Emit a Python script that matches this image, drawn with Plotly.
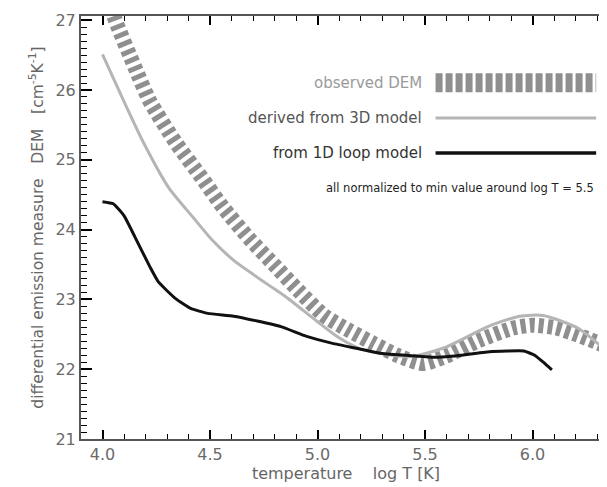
import plotly.graph_objects as go

# ---- data ----
obs_x = [3.98, 4.06, 4.15, 4.22, 4.34, 4.46, 4.56, 4.68, 4.80, 4.92, 5.03, 5.15,
         5.26, 5.37, 5.49, 5.60, 5.75, 5.91, 6.00, 6.11, 6.21, 6.34, 6.40]
obs_y = [27.8, 27.0, 26.33, 25.84, 25.25, 24.75, 24.32, 23.88, 23.49, 23.10, 22.77, 22.55,
         22.37, 22.20, 22.08, 22.19, 22.41, 22.59, 22.63, 22.59, 22.49, 22.33, 22.22]

d3_x = [4.00, 4.09, 4.185, 4.31, 4.42, 4.51, 4.61, 4.70, 4.78, 4.86, 4.93, 5.00, 5.10, 5.20, 5.30, 5.44,
        5.60, 5.80, 5.94, 6.05, 6.21, 6.36]
d3_y = [26.51, 25.90, 25.28, 24.59, 24.18, 23.85, 23.56, 23.36, 23.19, 23.02, 22.85, 22.68, 22.45, 22.29, 22.22, 22.18,
        22.32, 22.62, 22.76, 22.77, 22.59, 22.22]

d1_x = [4.00, 4.05, 4.10, 4.15, 4.22, 4.26, 4.34, 4.41, 4.49, 4.61, 4.72, 4.83, 4.95,
        5.07, 5.18, 5.29, 5.41, 5.54, 5.64, 5.80, 5.96, 6.01, 6.05, 6.09]
d1_y = [24.40, 24.37, 24.20, 23.90, 23.47, 23.25, 23.01, 22.87, 22.80, 22.76, 22.69, 22.61, 22.47,
        22.37, 22.30, 22.23, 22.20, 22.17, 22.19, 22.25, 22.26, 22.20, 22.10, 21.99]

legend_labels = ["observed DEM", "derived from 3D model", "from 1D loop model"]
note_text = "all normalized to min value around log T = 5.5"

FONT = "DejaVu Sans"
OBS_C = "#8f8f8f"
D3_C = "#b5b5b5"
D1_C = "#111111"
AX_C = "#555555"
TICK_C = "black"
X_RANGE = [3.9, 6.365]
Y_RANGE = [21, 27.06]

fig = go.Figure()
fig.add_trace(go.Scatter(x=obs_x, y=obs_y, mode="lines",
                         line=dict(color=OBS_C, width=15, dash="5px,4px", shape="spline", smoothing=0.6), showlegend=False))
fig.add_trace(go.Scatter(x=d3_x, y=d3_y, mode="lines",
                         line=dict(color=D3_C, width=3, shape="spline", smoothing=0.6), showlegend=False))
fig.add_trace(go.Scatter(x=d1_x, y=d1_y, mode="lines",
                         line=dict(color=D1_C, width=3, shape="spline", smoothing=0.4), showlegend=False))

leg_y = [0.842, 0.759, 0.676]
leg_colors = [OBS_C, D3_C, D1_C]
leg_text_colors = ["#9a9a9a", "#555555", "#333333"]
leg_widths = [19, 3, 3.5]
leg_dash = ["7px,3px", "solid", "solid"]
for lab, yy, c, tc, w, dsh in zip(legend_labels, leg_y, leg_colors, leg_text_colors, leg_widths, leg_dash):
    fig.add_shape(type="line", xref="paper", yref="paper", x0=0.669, x1=0.972, y0=yy, y1=yy,
                  line=dict(color=c, width=w, dash=dsh))
    fig.add_annotation(xref="paper", yref="paper", x=0.648, y=yy, text=lab, showarrow=False,
                       xanchor="right", yanchor="middle", font=dict(family=FONT, size=15, color=tc))
fig.add_annotation(xref="paper", yref="paper", x=0.972, y=0.593, text=note_text, showarrow=False,
                   xanchor="right", yanchor="middle", font=dict(family=FONT, size=11.5, color="#222222"))

fig.update_layout(
    width=607, height=487,
    margin=dict(l=73, r=2, t=8, b=56),
    plot_bgcolor="white", paper_bgcolor="white",
    font=dict(family=FONT, color="#6a6a6a"),
    xaxis=dict(range=X_RANGE, dtick=0.5, tick0=4.0, tickformat=".1f",
               ticks="inside", ticklen=9, tickwidth=2, tickcolor=TICK_C,
               showline=True, linecolor=AX_C, linewidth=2, mirror="ticks", showgrid=False, zeroline=False,
               minor=dict(ticks="inside", ticklen=5, tickwidth=1, tickcolor=TICK_C, dtick=0.1),
               tickfont=dict(size=16, color="#6a6a6a"),
               title=dict(text="temperature    log T [K]", font=dict(size=16, color="#666666"), standoff=4)),
    yaxis=dict(range=Y_RANGE, dtick=1, tick0=21,
               ticks="inside", ticklen=11, tickwidth=2, tickcolor=TICK_C,
               showline=True, linecolor=AX_C, linewidth=2, mirror="ticks", showgrid=False, zeroline=False,
               minor=dict(ticks="inside", ticklen=6, tickwidth=1, tickcolor=TICK_C, dtick=0.1),
               tickfont=dict(size=16, color="#6a6a6a"),
               title=dict(text="differential emission measure   DEM   [cm<sup>-5</sup>K<sup>-1</sup>]",
                          font=dict(size=15.5, color="#666666"), standoff=8)),
)

fig.write_html("out.html")
